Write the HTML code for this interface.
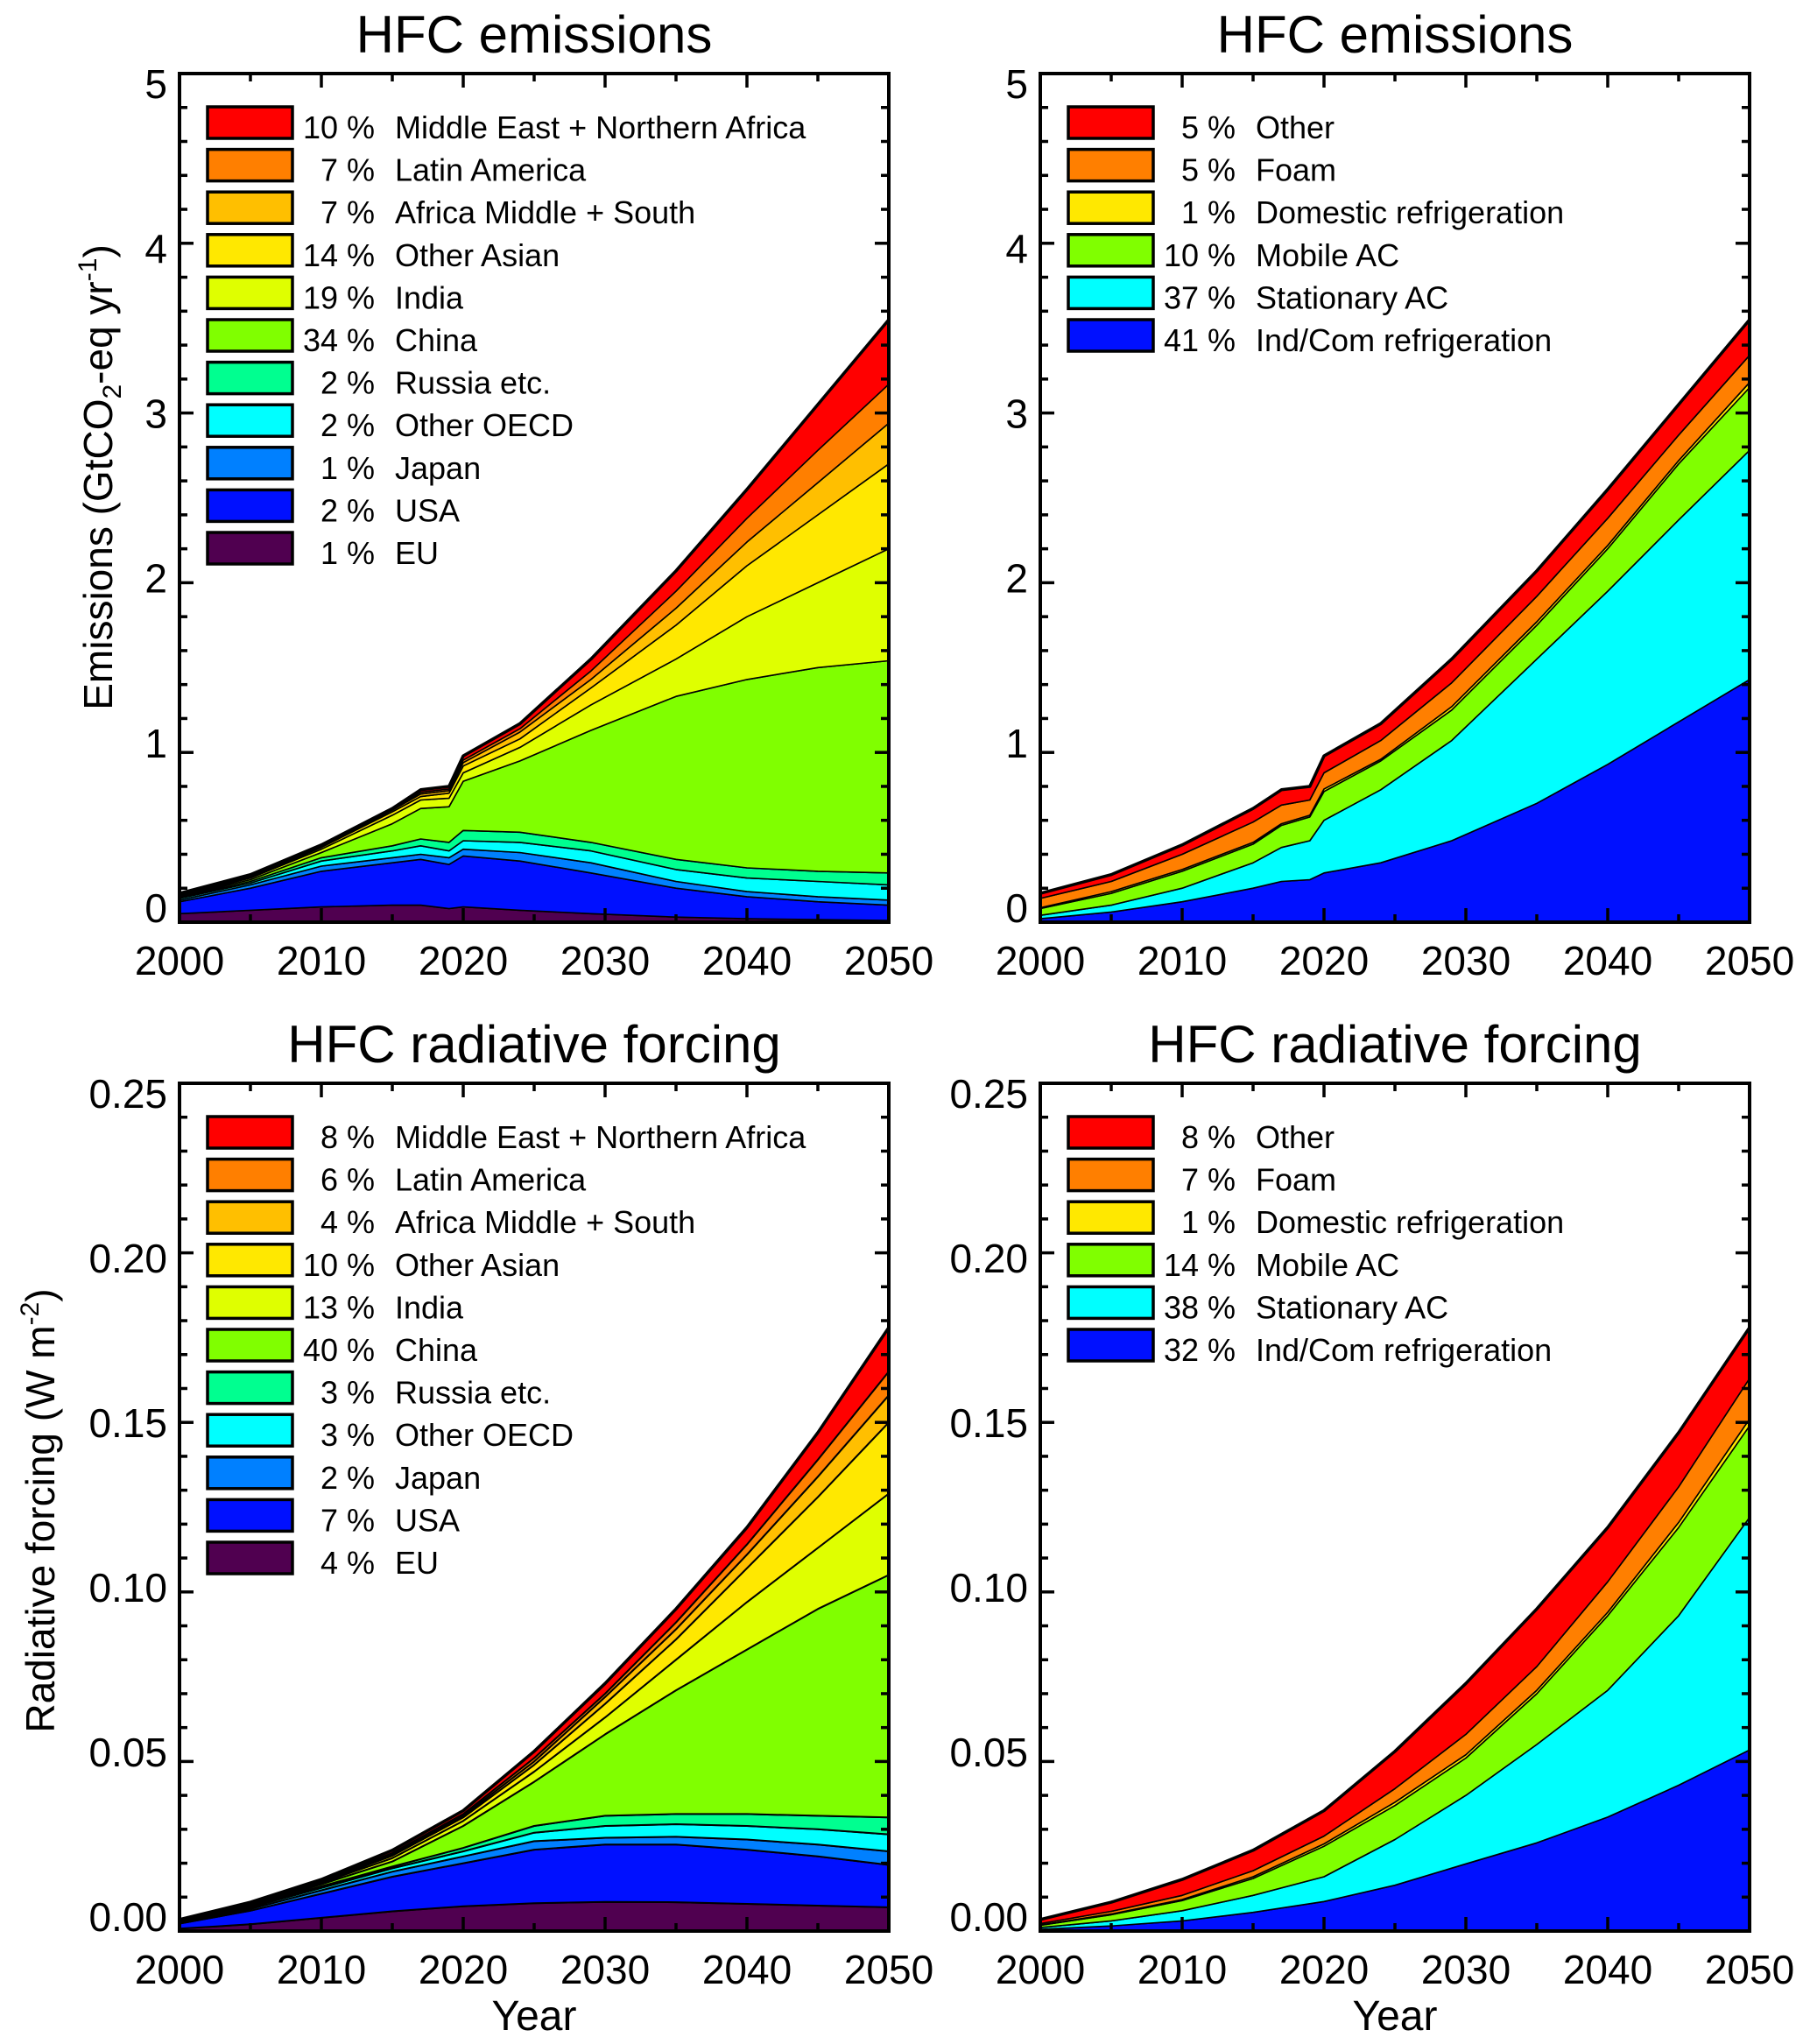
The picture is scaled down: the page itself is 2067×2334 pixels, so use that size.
<!DOCTYPE html>
<html><head><meta charset="utf-8"><title>HFC emissions and radiative forcing</title>
<style>
html,body{margin:0;padding:0;background:#fff;}
svg{display:block;font-family:"Liberation Sans",Arial,sans-serif;}
</style></head>
<body>
<svg id="fig" width="2067" height="2334" viewBox="0 0 2067 2334" xmlns="http://www.w3.org/2000/svg"></svg>
<script>
// ---------- data ----------
const emisYears=[2000,2005,2010,2015,2017,2019,2020,2024,2029,2035,2040,2045,2050];
const rfYears=[2000,2005,2010,2015,2020,2025,2030,2035,2040,2045,2050];

const regionNames=['EU','USA','Japan','Other OECD','Russia etc.','China','India','Other Asian','Africa Middle + South','Latin America','Middle East + Northern Africa'];
const sectorNames=['Ind/Com refrigeration','Stationary AC','Mobile AC','Domestic refrigeration','Foam','Other'];

// emissions by region (GtCO2-eq/yr), per layer
const emisEU=[.05,.07,.09,.10,.10,.08,.09,.07,.05,.03,.02,.015,.01];
const emisUSA=[.07,.13,.21,.25,.27,.26,.30,.29,.24,.17,.13,.105,.09];
const emisJapan=[.01,.02,.03,.03,.03,.04,.04,.05,.06,.04,.03,.03,.03];
const emisOtherOECD=[.01,.01,.03,.04,.05,.04,.05,.06,.07,.07,.08,.09,.09];
const emisRussia=[.005,.01,.02,.03,.04,.05,.06,.06,.05,.06,.06,.06,.07];
const emisChina=[.005,.01,.03,.13,.18,.21,.29,.42,.66,.96,1.11,1.20,1.25];
const emisIndia=[.005,.01,.02,.05,.05,.05,.05,.08,.15,.22,.37,.50,.66];
const emisOtherAsian=[.005,.005,.01,.02,.02,.03,.04,.05,.10,.20,.30,.40,.50];
const emisAfrica=[.003,.005,.005,.01,.015,.015,.02,.04,.05,.10,.14,.19,.24];
const emisLatAm=[.003,.005,.005,.005,.01,.01,.015,.02,.05,.10,.14,.19,.23];
const emisMENA=[.004,.005,.005,.005,.015,.015,.025,.03,.07,.12,.17,.27,.38];
const emisRegionPct=[1,2,1,2,2,34,19,14,7,7,10];

// emissions by sector
const emisIndCom=[.02,.06,.12,.20,.24,.25,.29,.35,.48,.70,.93,1.18,1.43];
const emisStatAC=[.02,.04,.08,.15,.20,.23,.31,.43,.59,.85,1.02,1.19,1.35];
const emisMobAC=[.04,.07,.10,.11,.13,.14,.17,.17,.18,.20,.25,.33,.37];
const emisDomRef=[.005,.01,.01,.01,.01,.01,.015,.01,.02,.02,.02,.02,.03];
const emisFoam=[.055,.06,.09,.12,.11,.09,.095,.11,.14,.15,.16,.15,.16];
const emisOther=[.03,.04,.055,.08,.09,.08,.10,.10,.14,.15,.17,.18,.21];
const emisSectorPct=[41,37,10,1,5,5];

// radiative forcing by region (W m-2), per layer
const rfEU=[.0007,.002,.0039,.0058,.0073,.0082,.0086,.0085,.008,.0075,.007];
const rfUSA=[.0015,.004,.0071,.0102,.0127,.0158,.0169,.017,.016,.0145,.0125];
const rfJapan=[.0002,.0005,.001,.0015,.002,.0025,.002,.0023,.003,.0035,.004];
const rfOtherOECD=[.0002,.0005,.0007,.001,.0015,.0025,.0035,.0037,.004,.0045,.005];
const rfRussia=[.0001,.0003,.0005,.0005,.001,.002,.003,.003,.0035,.004,.005];
const rfChina=[.0001,.0003,.0006,.0015,.0065,.013,.024,.0365,.0485,.061,.0715];
const rfIndia=[.0001,.0002,.0004,.001,.0015,.003,.005,.009,.014,.018,.024];
const rfOtherAsian=[.0001,.0002,.0003,.0007,.001,.002,.004,.006,.010,.015,.021];
const rfAfrica=[.0001,.0001,.0002,.0004,.0005,.001,.002,.003,.004,.006,.008];
const rfLatAm=[.0001,.0001,.0002,.0004,.0005,.001,.001,.002,.003,.005,.007];
const rfMENA=[.0002,.0003,.0003,.0008,.001,.002,.003,.004,.005,.008,.013];
const rfRegionPct=[4,7,2,3,3,40,13,10,4,6,8];

// radiative forcing by sector
const rfIndCom=[.0005,.0015,.003,.0055,.0087,.0135,.0198,.026,.0336,.043,.0534];
const rfStatAC=[.0005,.0015,.003,.005,.0073,.0135,.0202,.029,.0374,.05,.0686];
const rfMobAC=[.0007,.0018,.003,.005,.009,.010,.011,.015,.022,.026,.027];
const rfDomRef=[.0001,.0002,.0003,.0005,.0007,.001,.001,.001,.001,.0015,.002];
const rfFoam=[.0004,.0008,.0012,.0018,.0023,.004,.006,.007,.009,.0105,.012];
const rfOther=[.0012,.0027,.0047,.006,.0075,.011,.015,.017,.016,.016,.015];
const rfSectorPct=[32,38,14,1,7,8];

const emisYTicks=['0','1','2','3','4','5'];
const rfYTicks=['0.00','0.05','0.10','0.15','0.20','0.25'];
const xTicks=['2000','2010','2020','2030','2040','2050'];

// ---------- styles ----------
const regionColors=['#500050','#0010ff','#0080ff','#00ffff','#00ff90','#80ff00','#dfff00','#ffe800','#ffbf00','#ff7f00','#ff0000'];
const sectorColors=['#0010ff','#00ffff','#80ff00','#ffe800','#ff7f00','#ff0000'];

const NS='http://www.w3.org/2000/svg';
const svg=document.getElementById('fig');
function mk(tag,attrs,parent){const e=document.createElementNS(NS,tag);for(const k in attrs)e.setAttribute(k,attrs[k]);(parent||svg).appendChild(e);return e;}

function panel(cfg){
  const g=mk('g',{});
  
  
  const L=cfg.x0,R=cfg.x1,T=cfg.y0,B=cfg.y1;
  const xs=v=>L+(v-2000)/50*(R-L);
  const ys=v=>B-(v/cfg.ymax)*(B-T);
  const n=cfg.years.length;
  let base=new Array(n).fill(0);
  cfg.series.forEach((s,i)=>{
    const top=base.map((b,j)=>b+s[j]);
    let d='M';
    for(let j=0;j<n;j++)d+=(j?' L':'')+xs(cfg.years[j]).toFixed(1)+','+ys(top[j]).toFixed(1);
    for(let j=n-1;j>=0;j--)d+=' L'+xs(cfg.years[j]).toFixed(1)+','+ys(base[j]).toFixed(1);
    d+=' Z';
    const p=mk('path',{d:d,fill:cfg.colors[i],stroke:'#000','stroke-width':cfg.lw,'stroke-linejoin':'round'},g);
    
    
    base=top;
  });
  let d='M';
  for(let j=0;j<n;j++)d+=(j?' L':'')+xs(cfg.years[j]).toFixed(1)+','+ys(base[j]).toFixed(1);
  const tl=mk('path',{d:d,fill:'none',stroke:'#000','stroke-width':3.5,'stroke-linejoin':'round'},g);
  
  
  const fr=mk('rect',{x:L,y:T,width:R-L,height:B-T,fill:'none',stroke:'#000','stroke-width':4},g);
  
  
  for(let yr=2000;yr<=2050;yr+=5){
    const x=xs(yr),len=(yr%10===0)?16:9;
    mk('line',{x1:x,y1:B,x2:x,y2:B-len,stroke:'#000','stroke-width':3.5},g);
    mk('line',{x1:x,y1:T,x2:x,y2:T+len,stroke:'#000','stroke-width':3.5},g);
  }
  xTicks.forEach((t,i)=>{
    const tx=mk('text',{x:xs(2000+10*i),y:B+60,'font-size':46,'text-anchor':'middle'},g);
    
    
    tx.textContent=t;
  });
  const nMin=cfg.minorN;
  for(let k=0;k<=5*nMin;k++){
    const v=cfg.ymax*k/(5*nMin),y=ys(v),len=(k%nMin===0)?16:9;
    mk('line',{x1:L,y1:y,x2:L+len,y2:y,stroke:'#000','stroke-width':3.5},g);
    mk('line',{x1:R,y1:y,x2:R-len,y2:y,stroke:'#000','stroke-width':3.5},g);
  }
  cfg.yTicks.forEach((t,i)=>{
    const frac=1-i/5;
    const y=ys(cfg.ymax*i/5)+12-28*frac;
    const tx=mk('text',{x:L-14,y:y+16,'font-size':46,'text-anchor':'end'},g);
    
    
    tx.textContent=t;
  });
  const ti=mk('text',{x:(L+R)/2,y:T-24,'font-size':60,'text-anchor':'middle'},g);
  
  
  ti.textContent=cfg.title;
  const lg=mk('g',{},g);
  
  
  const m=cfg.series.length;
  for(let r=0;r<m;r++){
    const i=m-1-r;
    const by=T+38+r*48.6,bx=L+32;
    const ent=mk('g',{},lg);
    
    
    mk('rect',{x:bx,y:by,width:97,height:36,fill:cfg.colors[i],stroke:'#000','stroke-width':3.5},ent);
    const pt=mk('text',{x:bx+191,y:by+36,'font-size':36,'text-anchor':'end'},ent);
    pt.textContent=cfg.pct[i]+' %';
    const lt=mk('text',{x:bx+214,y:by+36,'font-size':36},ent);
    lt.textContent=cfg.names[i];
  }
}

panel({name:'emissions-by-region-panel',title:'HFC emissions',x0:205,x1:1015,y0:84,y1:1053,ymax:5,minorN:5,lw:1.6,
  years:emisYears,series:[emisEU,emisUSA,emisJapan,emisOtherOECD,emisRussia,emisChina,emisIndia,emisOtherAsian,emisAfrica,emisLatAm,emisMENA],
  colors:regionColors,names:regionNames,pct:emisRegionPct,yTicks:emisYTicks});
panel({name:'emissions-by-sector-panel',title:'HFC emissions',x0:1188,x1:1998,y0:84,y1:1053,ymax:5,minorN:5,lw:1.6,
  years:emisYears,series:[emisIndCom,emisStatAC,emisMobAC,emisDomRef,emisFoam,emisOther],
  colors:sectorColors,names:sectorNames,pct:emisSectorPct,yTicks:emisYTicks});
panel({name:'forcing-by-region-panel',title:'HFC radiative forcing',x0:205,x1:1015,y0:1237,y1:2205,ymax:0.25,minorN:5,lw:2,
  years:rfYears,series:[rfEU,rfUSA,rfJapan,rfOtherOECD,rfRussia,rfChina,rfIndia,rfOtherAsian,rfAfrica,rfLatAm,rfMENA],
  colors:regionColors,names:regionNames,pct:rfRegionPct,yTicks:rfYTicks});
panel({name:'forcing-by-sector-panel',title:'HFC radiative forcing',x0:1188,x1:1998,y0:1237,y1:2205,ymax:0.25,minorN:5,lw:1.6,
  years:rfYears,series:[rfIndCom,rfStatAC,rfMobAC,rfDomRef,rfFoam,rfOther],
  colors:sectorColors,names:sectorNames,pct:rfSectorPct,yTicks:rfYTicks});
</script>
<div style="position:absolute;left:0;top:0;width:2067px;height:2334px;pointer-events:none;">
  <svg width="2067" height="2334" style="position:absolute;left:0;top:0;font-family:'Liberation Sans',Arial,sans-serif;">
    <text transform="translate(128,545) rotate(-90)" font-size="46" text-anchor="middle">Emissions (GtCO<tspan font-size="30" dy="10">2</tspan><tspan dy="-10">-eq yr</tspan><tspan font-size="30" dy="-18">-1</tspan><tspan dy="18">)</tspan></text>
    <text transform="translate(62,1725) rotate(-90)" font-size="46" text-anchor="middle">Radiative forcing (W m<tspan font-size="30" dy="-18">-2</tspan><tspan dy="18">)</tspan></text>
    <text x="610" y="2318" font-size="48" text-anchor="middle">Year</text>
    <text x="1593" y="2318" font-size="48" text-anchor="middle">Year</text>
  </svg>
</div>
</body></html>
